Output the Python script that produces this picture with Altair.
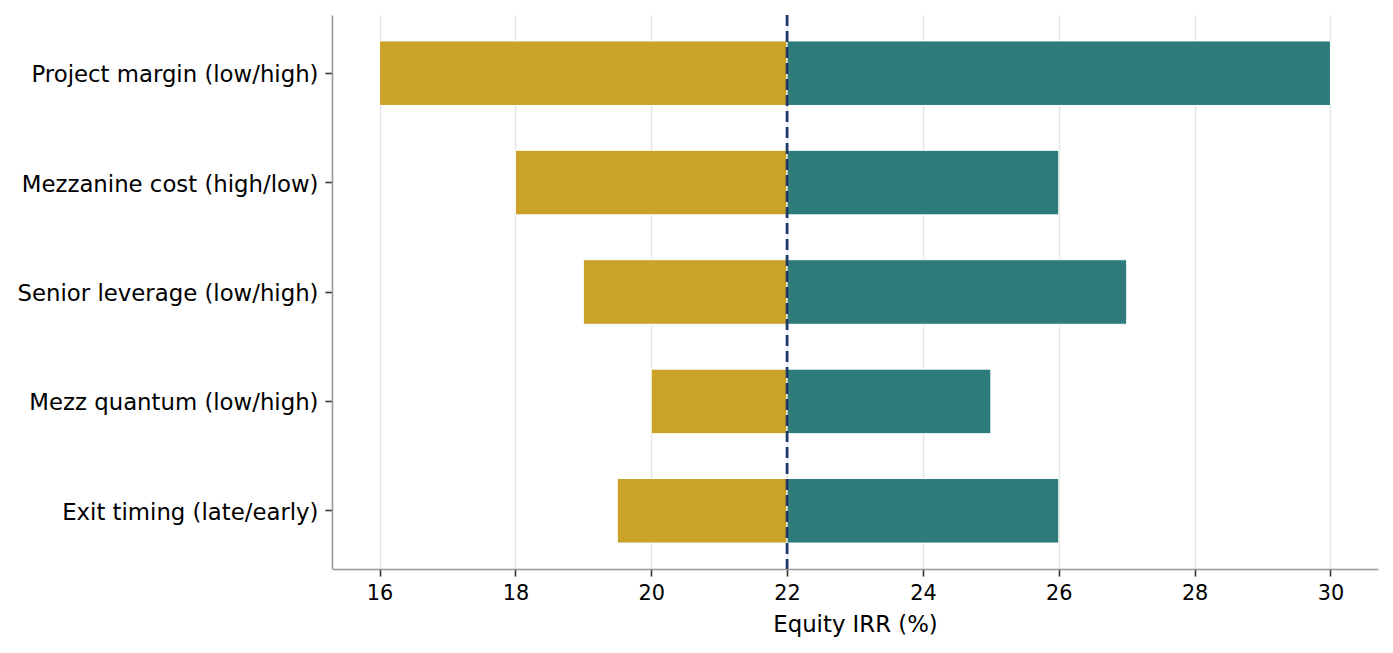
import altair as alt
import pandas as pd

factors = [
    "Project margin (low/high)",
    "Mezzanine cost (high/low)",
    "Senior leverage (low/high)",
    "Mezz quantum (low/high)",
    "Exit timing (late/early)",
]
low_irr = [16, 18, 19, 20, 19.5]
high_irr = [30, 26, 27, 25, 26]
base_irr = 22
x_ticks = [16, 18, 20, 22, 24, 26, 28, 30]

rows = []
for f, lo, hi in zip(factors, low_irr, high_irr):
    rows.append({"factor": f, "start": base_irr, "end": lo, "side": "low"})
    rows.append({"factor": f, "start": base_irr, "end": hi, "side": "high"})
bars_df = pd.DataFrame(rows)
base_df = pd.DataFrame({"x": [base_irr]})

FONT = "DejaVu Sans"

x_scale = alt.Scale(domain=[15.3, 30.7], nice=False, zero=False)

bars = (
    alt.Chart(bars_df)
    .mark_bar(stroke="white", strokeWidth=1)
    .encode(
        y=alt.Y(
            "factor:N",
            sort=factors,
            scale=alt.Scale(paddingInner=0.41, paddingOuter=0.237),
            axis=alt.Axis(
                title=None,
                labelFontSize=22.8,
                labelPadding=7,
                labelOffset=2,
                tickSize=7,
                grid=False,
                labelLimit=400,
            ),
        ),
        x=alt.X(
            "start:Q",
            scale=x_scale,
            axis=alt.Axis(
                values=x_ticks,
                format="d",
                title="Equity IRR (%)",
                titleFontSize=22.8,
                titleFontWeight="normal",
                titlePadding=11,
                labelFontSize=20.8,
                labelPadding=7,
                tickSize=7,
                grid=True,
            ),
        ),
        x2="end:Q",
        color=alt.Color(
            "side:N",
            scale=alt.Scale(domain=["low", "high"], range=["#C9A227", "#2E7B7C"]),
            legend=None,
        ),
    )
)

rule = (
    alt.Chart(base_df)
    .mark_rule(color="#1F3A68", strokeWidth=2.8, strokeDash=[11, 5])
    .encode(x=alt.X("x:Q", scale=x_scale))
)

chart = (
    alt.layer(bars, rule)
    .properties(
        width=1046,
        height=554,
        autosize=alt.AutoSizeParams(type="none"),
        padding={"left": 324, "top": 7, "right": 7, "bottom": 76},
    )
    .configure_view(stroke=None)
    .configure_axis(
        labelFont=FONT,
        titleFont=FONT,
        labelColor="black",
        titleColor="black",
        domainColor="#999999",
        domainWidth=1.6,
        tickColor="#333333",
        tickWidth=1.6,
        gridColor="#e3e5ea",
        gridWidth=1.4,
    )
)

chart.save("out.html", embed_options={"renderer": "svg", "actions": False})
